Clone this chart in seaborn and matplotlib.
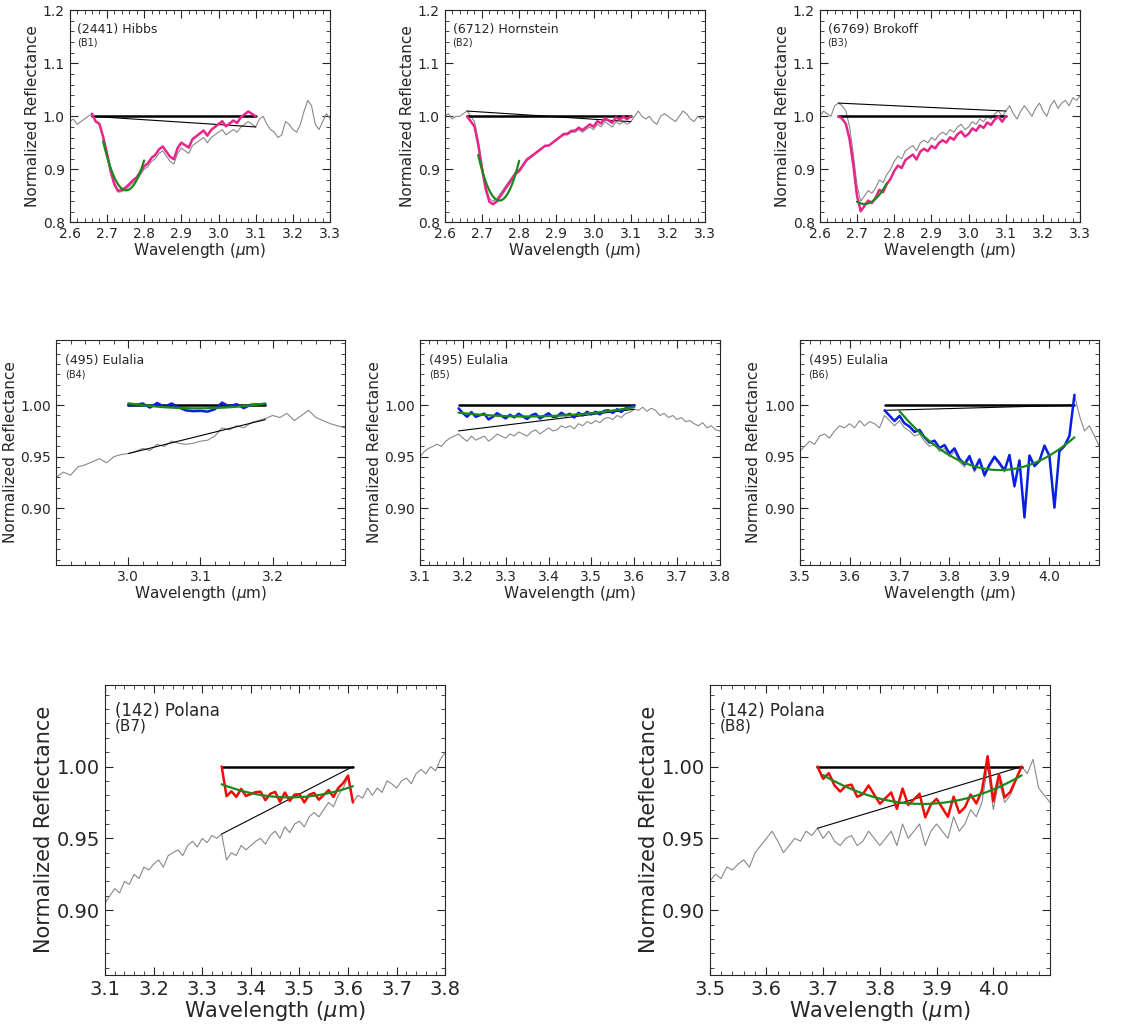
import numpy as np
import pandas as pd
import matplotlib
matplotlib.use("Agg")
import matplotlib.pyplot as plt
import seaborn as sns

sns.set_style("ticks")
plt.rcParams['font.family'] = ['DejaVu Sans']

# ---- data ----
b1_gray = [0.99,0.995,0.985,0.99,0.995, 1.0,1.005,0.99,0.985,0.96, 0.93,0.895,0.87,0.857,0.858,
           0.862,0.868,0.875,0.88,0.89, 0.90,0.905,0.915,0.92,0.93, 0.935,0.925,0.915,0.91,0.93,
           0.94,0.935,0.93,0.945,0.95, 0.955,0.96,0.95,0.96,0.965, 0.97,0.975,0.965,0.97,0.975,
           0.97,0.98,0.985,0.99,0.985, 0.98,0.995,1.0,0.985,0.975, 0.97,0.96,0.965,0.99,0.985,
           0.975,0.97,0.985,1.01,1.03, 1.02,0.985,0.975,0.99,1.005, 0.995]
b2_gray = [1.0,1.005,0.995,1.0,1.0, 1.005,1.01,1.0,0.99,0.955, 0.91,0.87,0.845,0.84,0.845,
           0.855,0.865,0.875,0.885,0.895, 0.90,0.91,0.92,0.925,0.93, 0.935,0.94,0.945,0.945,0.95,
           0.955,0.96,0.965,0.965,0.97, 0.97,0.975,0.97,0.975,0.98, 0.975,0.985,0.98,0.99,0.985,
           0.98,0.99,0.985,0.99,0.985, 0.99,1.0,1.01,1.0,0.995, 1.0,0.99,0.985,1.0,1.005,
           1.0,0.995,0.99,1.0,1.01, 1.005,0.995,0.99,1.0,0.995, 1.0]
b3_gray = [1.0,1.01,1.005,1.0,1.02, 1.025,1.02,1.01,0.98,0.93, 0.87,0.84,0.85,0.86,0.855,
           0.865,0.88,0.875,0.89,0.9, 0.915,0.925,0.92,0.935,0.94, 0.945,0.935,0.95,0.955,0.95,
           0.96,0.955,0.965,0.97,0.965, 0.975,0.97,0.98,0.985,0.975, 0.98,0.99,0.985,0.995,0.99,
           1.0,0.995,1.005,1.01,1.0, 1.01,1.02,1.005,0.995,1.01, 1.02,1.01,1.0,1.015,1.025,
           1.01,1.0,1.02,1.03,1.015, 1.025,1.03,1.02,1.035,1.03, 1.04]
b4_gray = [0.93,0.935,0.932,0.94,0.942, 0.945,0.948,0.944,0.95,0.952, 0.953,0.955,0.958,0.956,0.962,
           0.96,0.965,0.963,0.962,0.963, 0.965,0.966,0.97,0.978,0.976, 0.98,0.978,0.983,0.985,0.987,
           0.99,0.988,0.992,0.985,0.99, 0.995,0.988,0.985,0.982,0.98, 0.978]
b5_gray = [0.95,0.955,0.958,0.96,0.962, 0.96,0.965,0.968,0.97,0.972, 0.968,0.965,0.97,0.966,0.968,
           0.97,0.965,0.968,0.972,0.97, 0.968,0.972,0.97,0.974,0.972, 0.97,0.974,0.976,0.972,0.975,
           0.978,0.975,0.976,0.98,0.978, 0.98,0.977,0.982,0.98,0.984, 0.982,0.985,0.983,0.987,0.988,
           0.986,0.99,0.988,0.992,0.993, 0.996,0.995,0.998,0.994,0.997, 0.995,0.99,0.992,0.988,0.99,
           0.986,0.988,0.984,0.985,0.982, 0.98,0.983,0.978,0.98,0.976, 0.975]
b6_gray = [0.955,0.96,0.965,0.962,0.97, 0.972,0.968,0.975,0.98,0.978, 0.982,0.978,0.985,0.98,0.984,
           0.982,0.978,0.99,0.985,0.98, 0.985,0.978,0.975,0.97,0.972, 0.965,0.96,0.962,0.955,0.958,
           0.95,0.955,0.945,0.94,0.948, 0.935,0.945,0.93,0.94,0.948, 0.942,0.935,0.95,0.92,0.945,
           0.89,0.95,0.94,0.945,0.96, 0.95,0.9,0.955,0.96,0.97, 1.01,0.99,0.975,0.98,0.97, 0.96]
b7_gray = [0.905,0.91,0.915,0.912,0.92, 0.918,0.925,0.922,0.93,0.928, 0.932,0.935,0.93,0.938,0.94,
           0.942,0.938,0.945,0.948,0.944, 0.95,0.947,0.952,0.95,0.953, 0.935,0.94,0.938,0.945,0.942,
           0.945,0.948,0.95,0.946,0.952, 0.955,0.95,0.958,0.954,0.96, 0.962,0.958,0.965,0.968,0.965,
           0.97,0.975,0.972,0.98,0.985, 0.992,0.975,0.98,0.978,0.985, 0.98,0.985,0.982,0.99,0.988,
           0.985,0.99,0.992,0.988,0.995, 0.998,0.995,1.0,0.997,1.005, 1.01]
b8_gray = [0.92,0.925,0.922,0.93,0.928, 0.932,0.935,0.93,0.94,0.945, 0.95,0.955,0.948,0.94,0.945,
           0.95,0.948,0.955,0.952,0.957, 0.95,0.955,0.948,0.945,0.95, 0.952,0.945,0.948,0.955,0.95,
           0.945,0.95,0.955,0.945,0.96, 0.95,0.955,0.96,0.945,0.955, 0.96,0.955,0.95,0.965,0.955,
           0.96,0.97,0.965,0.975,1.0, 0.97,0.99,0.975,0.98,0.99, 1.0,0.995,1.005,0.985,0.98, 0.975]

starts = [2.60, 2.60, 2.60, 2.90, 3.10, 3.50, 3.10, 3.50]
names = ["(2441) Hibbs", "(6712) Hornstein", "(6769) Brokoff", "(495) Eulalia", "(495) Eulalia",
         "(495) Eulalia", "(142) Polana", "(142) Polana"]
tags = ["(B1)", "(B2)", "(B3)", "(B4)", "(B5)", "(B6)", "(B7)", "(B8)"]
# continuum endpoints (x0, y0, x1, y1)
conts = [(2.66, 1.0, 3.10, 0.98), (2.66, 1.01, 3.10, 0.99), (2.65, 1.025, 3.10, 1.01),
         (3.00, 0.953, 3.19, 0.986), (3.19, 0.975, 3.60, 0.996), (3.67, 0.995, 4.05, 1.0),
         (3.34, 0.953, 3.61, 1.0), (3.69, 0.957, 4.05, 1.0)]
fit_ranges = [(2.69, 2.80), (2.69, 2.80), (2.70, 2.78), (3.00, 3.19), (3.19, 3.60),
              (3.70, 4.05), (3.34, 3.61), (3.70, 4.05)]
colors = ["#e8258a"] * 3 + ["#0a1fe6"] * 3 + ["#f00a0a"] * 2
grays = [b1_gray, b2_gray, b3_gray, b4_gray, b5_gray, b6_gray, b7_gray, b8_gray]

positions = [(0.062, 0.783, 0.232, 0.207), (0.396, 0.783, 0.232, 0.207), (0.730, 0.783, 0.232, 0.207),
             (0.050, 0.449, 0.257, 0.219), (0.374, 0.449, 0.267, 0.219), (0.712, 0.449, 0.267, 0.219),
             (0.0935, 0.049, 0.303, 0.283), (0.632, 0.049, 0.303, 0.283)]
xlims = [(2.6, 3.3)] * 3 + [(2.9, 3.3), (3.1, 3.8), (3.5, 4.1), (3.1, 3.8), (3.5, 4.1)]
ylims = [(0.8, 1.2)] * 3 + [(0.845, 1.063)] * 3 + [(0.855, 1.057)] * 2

fig = plt.figure(figsize=(11.23, 10.25), dpi=100)
for i in range(8):
    ax = fig.add_axes(positions[i])
    g = np.array(grays[i])
    x = np.round(starts[i] + 0.01 * np.arange(len(g)), 3)
    sns.lineplot(x=x, y=g, ax=ax, color="#888888", lw=0.8)
    x0, y0, x1, y1 = conts[i]
    m = (x >= x0 - 1e-9) & (x <= x1 + 1e-9)
    cont = y0 + (y1 - y0) * (x[m] - x0) / (x1 - x0)
    norm = g[m] / cont
    ax.plot([x0, x1], [y0, y1], color="black", lw=0.8)
    ax.plot([x0, x1], [1.0, 1.0], color="black", lw=1.8)
    sns.lineplot(x=x[m], y=norm, ax=ax, color=colors[i], lw=1.8)
    f0, f1 = fit_ranges[i]
    fm = (x[m] >= f0 - 1e-9) & (x[m] <= f1 + 1e-9)
    c = np.polyfit(x[m][fm], norm[fm], 2)
    xf = np.linspace(f0, f1, 50)
    ax.plot(xf, np.polyval(c, xf), color="#1a8a1a", lw=1.6)
    ax.set_xlim(*xlims[i])
    ax.set_ylim(*ylims[i])
    big = i >= 6
    fs = 15 if big else 11
    if i < 3:
        ax.set_yticks([0.8, 0.9, 1.0, 1.1, 1.2])
        ax.yaxis.set_major_formatter(matplotlib.ticker.FormatStrFormatter("%.1f"))
        ax.xaxis.set_major_locator(matplotlib.ticker.MultipleLocator(0.1))
    else:
        ax.set_yticks([0.90, 0.95, 1.00])
        ax.yaxis.set_major_formatter(matplotlib.ticker.FormatStrFormatter("%.2f"))
        ax.xaxis.set_major_locator(matplotlib.ticker.MultipleLocator(0.1))
        if i in (5, 7):
            ax.set_xticks([3.5, 3.6, 3.7, 3.8, 3.9, 4.0])
        if i == 3:
            ax.set_xticks([3.0, 3.1, 3.2])
    ax.xaxis.set_minor_locator(matplotlib.ticker.AutoMinorLocator(5))
    ax.yaxis.set_minor_locator(matplotlib.ticker.AutoMinorLocator(5))
    ax.tick_params(which="both", direction="in", top=True, right=True, labelsize=fs - 1)
    ax.tick_params(which="major", length=6)
    ax.tick_params(which="minor", length=3)
    ax.set_xlabel(r"Wavelength ($\mu$m)", fontsize=fs, labelpad=0)
    ax.set_ylabel("Normalized Reflectance", fontsize=fs, labelpad=2)
    ax.text(0.03, 0.94, names[i], transform=ax.transAxes, fontsize=fs - 2 if not big else 12, va="top")
    ax.text(0.03, 0.87 if not big else 0.885, tags[i], transform=ax.transAxes,
            fontsize=fs - 4 if not big else 11, va="top")

fig.savefig("out.png", dpi=100)
